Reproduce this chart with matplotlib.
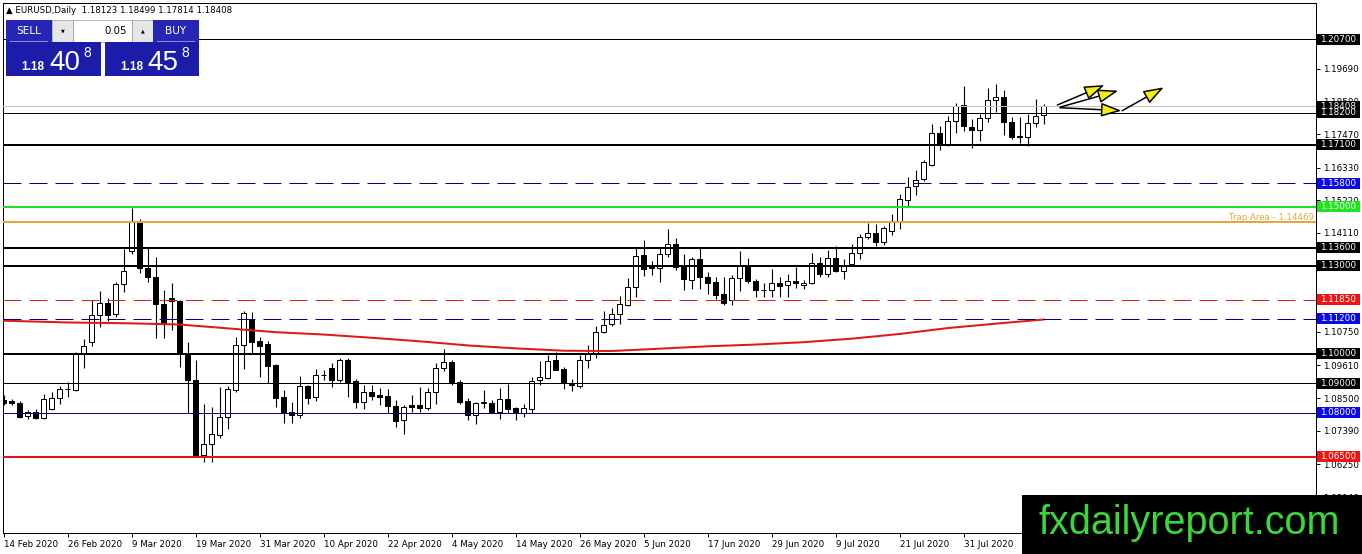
import matplotlib
matplotlib.use('Agg')
import matplotlib.pyplot as plt
import numpy as np
from matplotlib.patches import Rectangle, FancyArrowPatch, ArrowStyle
from matplotlib.transforms import blended_transform_factory

W, H, DPI = 1362, 554, 100

# ---------------- data ----------------
opens = [1.0843,1.0840,1.0835,1.0789,1.0803,1.0782,1.0812,1.0849,1.0880,1.0878,
1.0999,1.1042,1.1131,1.1172,1.1135,1.1237,1.1351,1.1453,1.1291,1.1261,
1.1170,1.1189,1.1180,1.0996,1.0912,1.0657,1.0694,1.0726,1.0785,1.0878,
1.1031,1.1117,1.1044,1.1034,1.0962,1.0853,1.0802,1.0793,1.0891,1.0855,
1.0929,1.0951,1.0912,1.0980,1.0908,1.0836,1.0870,1.0861,1.0857,1.0823,
1.0776,1.0826,1.0826,1.0815,1.0872,1.0951,1.0972,1.0906,1.0840,1.0793,
1.0838,1.0832,1.0804,1.0846,1.0815,1.0801,1.0812,1.0913,1.0919,1.0980,
1.0949,1.0895,1.0892,1.0980,1.1004,1.1076,1.1101,1.1135,1.1166,1.1229,
1.1336,1.1293,1.1291,1.1339,1.1372,1.1300,1.1251,1.1323,1.1260,1.1243,
1.1203,1.1183,1.1257,1.1302,1.1249,1.1217,1.1217,1.1240,1.1233,1.1249,
1.1235,1.1242,1.1308,1.1271,1.1327,1.1283,1.1305,1.1342,1.1398,1.1410,
1.1381,1.1419,1.1449,1.1523,1.1571,1.1593,1.1642,1.1750,1.1712,1.1791,
1.1846,1.1772,1.1761,1.1801,1.1863,1.1874,1.1789,1.1740,1.1738,1.1784,
1.1812]
highs = [1.0860,1.0847,1.0840,1.0808,1.0812,1.0863,1.0870,1.0891,1.0906,1.1008,
1.1050,1.1183,1.1215,1.1190,1.1246,1.1356,1.1495,1.1458,1.1360,1.1330,
1.1217,1.1240,1.1185,1.1042,1.0980,1.0830,1.0820,1.0887,1.0891,1.1059,
1.1147,1.1144,1.1059,1.1044,1.0965,1.0876,1.0836,1.0925,1.0893,1.0950,
1.0946,1.0968,1.0988,1.0988,1.0915,1.0895,1.0895,1.0884,1.0880,1.0844,
1.0826,1.0859,1.0889,1.0884,1.0971,1.1016,1.0978,1.0912,1.0850,1.0836,
1.0878,1.0843,1.0884,1.0898,1.0820,1.0830,1.0923,1.0976,1.0998,1.1006,
1.0955,1.0915,1.0997,1.1030,1.1094,1.1146,1.1156,1.1197,1.1258,1.1363,
1.1387,1.1315,1.1363,1.1423,1.1395,1.1338,1.1330,1.1360,1.1280,1.1262,
1.1260,1.1268,1.1349,1.1327,1.1255,1.1240,1.1287,1.1262,1.1271,1.1296,
1.1252,1.1344,1.1328,1.1353,1.1368,1.1324,1.1372,1.1407,1.1444,1.1441,
1.1435,1.1474,1.1545,1.1602,1.1626,1.1659,1.1781,1.1774,1.1809,1.1851,
1.1910,1.1798,1.1815,1.1904,1.1916,1.1897,1.1806,1.1806,1.1814,1.1866,
1.1850]
lows = [1.0826,1.0827,1.0782,1.0780,1.0778,1.0778,1.0810,1.0829,1.0853,1.0873,
1.0951,1.1027,1.1093,1.1112,1.1125,1.1210,1.1339,1.1274,1.1244,1.1053,
1.1053,1.1081,1.0957,1.0799,1.0651,1.0634,1.0634,1.0715,1.0744,1.0870,
1.0949,1.1003,1.0923,1.0901,1.0819,1.0765,1.0764,1.0781,1.0830,1.0840,
1.0912,1.0889,1.0905,1.0855,1.0815,1.0812,1.0843,1.0826,1.0800,1.0752,
1.0727,1.0804,1.0804,1.0810,1.0831,1.0941,1.0893,1.0830,1.0777,1.0761,
1.0815,1.0800,1.0779,1.0800,1.0775,1.0785,1.0800,1.0893,1.0915,1.0944,
1.0881,1.0873,1.0885,1.0953,1.0985,1.1070,1.1095,1.1101,1.1163,1.1195,
1.1265,1.1268,1.1245,1.1330,1.1285,1.1218,1.1222,1.1222,1.1204,1.1187,
1.1167,1.1167,1.1213,1.1240,1.1193,1.1194,1.1194,1.1195,1.1195,1.1225,
1.1222,1.1238,1.1260,1.1260,1.1280,1.1253,1.1300,1.1324,1.1390,1.1366,
1.1371,1.1404,1.1423,1.1502,1.1539,1.1588,1.1640,1.1693,1.1705,1.1752,
1.1759,1.1699,1.1722,1.1789,1.1821,1.1744,1.1730,1.1715,1.1706,1.1770,
1.1781]
closes = [1.0833,1.0834,1.0787,1.0803,1.0781,1.0847,1.0849,1.0880,1.0881,1.0999,
1.1027,1.1132,1.1172,1.1134,1.1237,1.1283,1.1453,1.1291,1.1261,1.1169,
1.1102,1.1180,1.1002,1.0912,1.0657,1.0694,1.0728,1.0785,1.0880,1.1031,
1.1138,1.1042,1.1028,1.0960,1.0851,1.0801,1.0793,1.0891,1.0851,1.0929,
1.0930,1.0912,1.0980,1.0906,1.0836,1.0872,1.0858,1.0855,1.0823,1.0773,
1.0821,1.0819,1.0818,1.0872,1.0951,1.0974,1.0906,1.0838,1.0793,1.0832,
1.0832,1.0804,1.0846,1.0812,1.0804,1.0815,1.0909,1.0921,1.0976,1.0946,
1.0900,1.0897,1.0980,1.1004,1.1076,1.1098,1.1135,1.1169,1.1229,1.1334,
1.1288,1.1295,1.1340,1.1372,1.1297,1.1254,1.1323,1.1260,1.1242,1.1200,
1.1174,1.1257,1.1300,1.1249,1.1217,1.1218,1.1240,1.1232,1.1249,1.1240,
1.1242,1.1308,1.1271,1.1327,1.1283,1.1299,1.1342,1.1398,1.1410,1.1381,
1.1427,1.1449,1.1525,1.1568,1.1591,1.1653,1.1750,1.1710,1.1791,1.1843,
1.1775,1.1761,1.1801,1.1863,1.1874,1.1787,1.1736,1.1736,1.1784,1.1810,
1.1841]

# moving average read at selected bars
ma_bars = [0, 8, 16, 22, 28, 34, 40, 46, 52, 58, 64, 70, 76, 82, 88, 94, 100, 106, 112, 118, 124, 130]
ma_vals = [1.1113, 1.1107, 1.1104, 1.1100, 1.1087, 1.1074, 1.1066, 1.1055, 1.1043, 1.1029, 1.1019,
           1.1011, 1.1010, 1.1018, 1.1026, 1.1032, 1.1040, 1.1052, 1.1068, 1.1088, 1.1103, 1.1117]

date_bars = [0, 8, 16, 24, 32, 40, 48, 56, 64, 72, 80, 88, 96, 104, 112, 120, 128]
date_labels = ['14 Feb 2020', '26 Feb 2020', '9 Mar 2020', '19 Mar 2020', '31 Mar 2020',
               '10 Apr 2020', '22 Apr 2020', '4 May 2020', '14 May 2020', '26 May 2020',
               '5 Jun 2020', '17 Jun 2020', '29 Jun 2020', '9 Jul 2020', '21 Jul 2020',
               '31 Jul 2020', '12 Aug 2020']

# visible price scale ticks (those fully hidden behind level labels are left out)
price_ticks = [1.0514, 1.0625, 1.0739, 1.0850, 1.0961, 1.1075,
               1.1411, 1.1522, 1.1633, 1.1747, 1.1858, 1.1969]

level_prices = [1.20700, 1.18408, 1.18200, 1.17100, 1.15800, 1.15000, 1.14469, 1.13600,
                1.13000, 1.11850, 1.11200, 1.10000, 1.09000, 1.08000, 1.06500]
level_colors = ['black', '#c0c0c0', 'black', 'black', '#000090', '#22e022', '#e8a53c', 'black',
                'black', '#e02020', '#000090', 'black', 'black', '#0000a0', '#e81010']
level_widths = [1, 1, 1, 2, 1, 2, 2, 2, 2, 1, 1, 2, 1, 1, 2]
level_dashed = [False, False, False, False, True, False, False, False,
                False, True, True, False, False, False, False]
level_label_bg = ['black', 'black', 'black', 'black', '#0a0ae6', '#1ee61e', None, 'black',
                  'black', '#f01414', '#0a0ae6', 'black', 'black', '#0a0ae6', '#f01414']
level_label_text = ['1.20700', '1.18408', '1.18200', '1.17100', '1.15800', '1.15000', None, '1.13600',
                    '1.13000', '1.11850', '1.11200', '1.10000', '1.09000', '1.08000', '1.06500']
trap_text = 'Trap Area - 1.14469'

# arrows (bar index, price)
arrow_starts = [(131.7, 1.18458), (132.1, 1.18390), (132.0, 1.18366), (139.8, 1.18264)]
arrow_ends = [(137.6, 1.19137), (139.3, 1.18944), (139.7, 1.18264), (145.0, 1.19059)]

header = '\u25b2 EURUSD,Daily  1.18123 1.18499 1.17814 1.18408'

# ---------------- figure ----------------
PX = 72.0 / DPI  # one pixel in points
fig = plt.figure(figsize=(W / DPI, H / DPI), dpi=DPI)
fig.patch.set_facecolor('white')
plt.rcParams['font.family'] = ['DejaVu Sans']

L, R, T, B = 3, 1316, 3, 533
ax = fig.add_axes([L / W, 1 - B / H, (R - L) / W, (B - T) / H])
ax.set_facecolor('white')
ax.set_xlim(-0.1, (R - L) / 8 - 0.1)
ax.set_ylim(1.03918, 1.21923)
for s in ax.spines.values():
    s.set_linewidth(PX)
    s.set_color('black')

o = np.array(opens); h = np.array(highs); lo = np.array(lows); c = np.array(closes)
x = np.arange(len(o))
up = c >= o
ax.vlines(x, lo, h, color='black', lw=PX * 1.1, zorder=2)
ax.bar(x, np.abs(c - o), bottom=np.minimum(o, c), width=0.6,
       color=np.where(up, 'white', 'black'), edgecolor='black', linewidth=PX, zorder=3)

ax.plot(ma_bars, ma_vals, color='#e01818', lw=2 * PX, zorder=4)

for p, col, lw, dsh in zip(level_prices, level_colors, level_widths, level_dashed):
    ls = (0, (18 / lw, 8 / lw)) if dsh else '-'
    ax.axhline(p, color=col, lw=lw * PX, ls=ls, zorder=5)

ax.text(1.0 - 2 / (R - L), 1.14469, trap_text, transform=blended_transform_factory(ax.transAxes, ax.transData),
        ha='right', va='bottom', fontsize=6.2, color='#e8a53c', zorder=6)

for (x0, y0), (x1, y1) in zip(arrow_starts, arrow_ends):
    arr = FancyArrowPatch((x0, y0), (x1, y1),
                          arrowstyle=ArrowStyle('-|>', head_length=12.5, head_width=4.3),
                          mutation_scale=1, fc='#f5ee10', ec='black', lw=1.5 * PX,
                          shrinkA=0, shrinkB=0, zorder=7)
    ax.add_patch(arr)

# axes ticks
ax.yaxis.tick_right()
ax.set_yticks(price_ticks)
ax.set_yticklabels([f'{t:.5f}' for t in price_ticks])
ax.tick_params(axis='y', direction='out', length=3 * PX * 1.3, width=PX, pad=2.5,
               labelsize=6.3, colors='black')
ax.set_xticks(date_bars)
ax.set_xticklabels(date_labels, ha='left')
ax.tick_params(axis='x', direction='out', length=3 * PX * 1.3, width=PX, pad=2.5,
               labelsize=6.3, colors='black')

# level labels on the right axis
tr = blended_transform_factory(fig.transFigure, ax.transData)
box_h = 11 / 2943.7
for p, bg, txt in zip(level_prices, level_label_bg, level_label_text):
    if txt is None:
        continue
    ax.add_patch(Rectangle((1317 / W, p - box_h / 2), 43 / W, box_h, transform=tr,
                           facecolor=bg, edgecolor='none', clip_on=False, zorder=8))
    ax.text(1320.5 / W, p, txt, transform=tr, ha='left', va='center', fontsize=6.3,
            color='white', clip_on=False, zorder=9)

# ---------------- top-left panel ----------------
def fx(px):
    return px / W

def fy(py):
    return 1 - py / H

def rect(x0, y0, x1, y1, fc, ec='none', lw=0.0, z=20):
    fig.add_artist(Rectangle((fx(x0), fy(y1)), fx(x1) - fx(x0), fy(y0) - fy(y1),
                             transform=fig.transFigure, facecolor=fc, edgecolor=ec,
                             linewidth=lw, zorder=z))

fig.text(fx(6), fy(10.5), header, fontsize=6.2, ha='left', va='center', color='black', zorder=21)

rect(6, 20, 52, 41.5, '#2626b6')
rect(52, 20, 73, 41.5, '#e6e6e6', ec='#9a9a9a', lw=0.5)
rect(73, 20, 132, 41.5, 'white', ec='#9a9a9a', lw=0.5)
rect(132, 20, 153, 41.5, '#e6e6e6', ec='#9a9a9a', lw=0.5)
rect(153, 20, 199, 41.5, '#2626b6')
rect(6, 41.5, 101.5, 76, '#1c1cab')
rect(104.5, 41.5, 199, 76, '#1c1cab')
rect(10, 41, 48, 41.8, '#8a8ad8', z=21)
rect(157, 41, 195, 41.8, '#8a8ad8', z=21)

fig.text(fx(28.5), fy(30.5), 'SELL', color='white', fontsize=7.6, ha='center', va='center', zorder=22)
fig.text(fx(176), fy(30.5), 'BUY', color='white', fontsize=7.6, ha='center', va='center', zorder=22)
fig.text(fx(62.5), fy(30.5), '\u25bc', color='black', fontsize=3.5, ha='center', va='center', zorder=22)
fig.text(fx(142.5), fy(30.5), '\u25b2', color='black', fontsize=3.5, ha='center', va='center', zorder=22)
fig.text(fx(127), fy(30.5), '0.05', color='black', fontsize=7.3, ha='right', va='center', zorder=22)

big = ['Liberation Sans', 'DejaVu Sans']
for x_small, x_big, x_sup, big_txt in [(21.5, 49, 83, '40'), (120, 147, 181.5, '45')]:
    fig.text(fx(x_small), fy(70), '1.18', color='white', fontsize=8.5, fontweight='bold',
             family=big, ha='left', va='baseline', zorder=22)
    fig.text(fx(x_big), fy(70), big_txt, color='white', fontsize=20, family=big,
             ha='left', va='baseline', zorder=22)
    fig.text(fx(x_sup), fy(57), '8', color='white', fontsize=10, family=big,
             ha='left', va='baseline', zorder=22)

# ---------------- watermark ----------------
rect(1022, 495, 1362, 554, 'black', z=30)
fig.text(fx(1189), fy(533.5), 'fxdailyreport.com', color='#3ad63a', fontsize=28.5,
         family=big, ha='center', va='baseline', zorder=31)

fig.savefig('out.png', dpi=DPI, facecolor='white')
